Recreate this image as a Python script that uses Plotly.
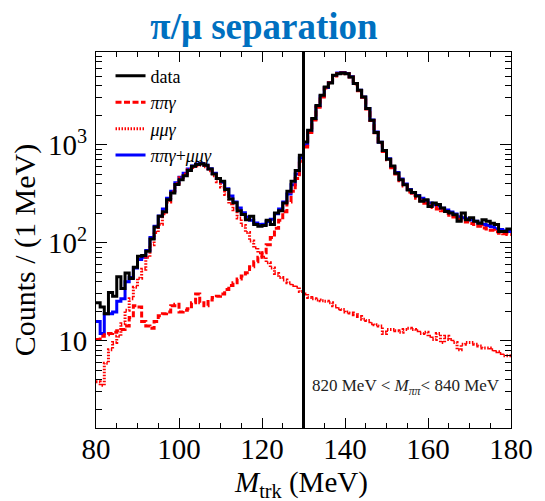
import plotly.graph_objects as go

# bin low edges: 80..179 MeV, 1 MeV bins
bin_lo = list(range(80, 180))

data_counts = [24.4, 22, 18.8, 31, 28.4, 45, 34, 49, 43, 56,
               72.6, 74, 81.5, 109, 144, 186, 207, 274, 321, 391,
               439, 482, 546, 600, 626, 640, 615, 563, 501, 450,
               424, 349, 279, 255, 211, 194, 171, 186, 153, 147,
               150, 169, 153, 201, 211, 254, 334, 424, 546, 778,
               1066, 1400, 1842, 2510, 3185, 3876, 4260, 5100, 5300, 5369,
               5300, 4905, 4195, 3585, 3067, 2331, 1771, 1331, 1055, 870,
               710, 605, 511, 439, 389, 344, 324, 299, 264, 274,
               234, 254, 245, 226, 208, 201, 193, 165, 201, 171,
               179, 165, 158, 171, 165, 158, 153, 130, 130, 138]

pipig = [10.3, 11.1, 11.5, 11.8, 12.2, 12.6, 13, 14.1, 17.2, 22.7,
         22, 15.7, 14.1, 13.4, 15.7, 18, 18.8, 19.6, 22.7, 23.5,
         19.6, 20.4, 21.2, 24.4, 30, 24.4, 22.7, 26, 27.6, 28.4,
         30, 33.2, 36.6, 39, 42.5, 45.8, 49.3, 56.9, 63.9, 71,
         78.8, 94.9, 113, 140, 169, 207, 260, 334, 450, 678,
         946, 1331, 1782, 2410, 3069, 3790, 4279, 5020, 5330, 5395,
         5295, 4896, 4155, 3550, 3045, 2315, 1760, 1320, 1033, 850,
         699, 580, 501, 429, 379, 329, 304, 284, 268, 253,
         238, 228, 221, 211, 200, 190, 183, 173, 169, 162,
         157, 153, 147, 141, 138, 134, 129, 125, 123, 121]

mumug = [3.8, 3.5, 5.9, 8.1, 9.6, 11.1, 14.9, 20.4, 26.8, 35,
         43.3, 53.6, 71, 94.9, 127, 154.5, 197, 260, 329, 399,
         460, 501, 553, 584, 610, 615, 594, 542, 480, 419,
         369, 309, 250, 216, 178, 150, 127, 104, 88.6, 78.8,
         71, 62.2, 55.2, 48.5, 44.2, 41.7, 39, 36.6, 35, 31.7,
         30, 27.6, 26.8, 26, 25.6, 25.2, 24.4, 22.7, 21.2, 20.8,
         19.6, 19.2, 18.4, 17.6, 16.5, 16.1, 14.9, 14.5, 14.1, 11.8,
         13, 13, 12.6, 12.2, 13, 13.4, 13, 12.6, 11.8, 12.2,
         11.1, 10.3, 11.8, 9.6, 11.1, 10.3, 9.6, 8.1, 9.2, 9.6,
         9.6, 9.2, 8.8, 8.4, 8.4, 8.1, 7.7, 7.4, 7.0, 7.0]

total_mc = [15.7, 11.8, 18.8, 18.8, 19.6, 25.2, 26.8, 40, 44.2, 55.2,
            67.4, 71, 83.3, 113, 147, 187.5, 221, 284, 334, 409,
            465, 511, 563, 605, 636, 641, 615, 568, 511, 450,
            414, 354, 299, 260, 226, 202, 183, 169, 159, 153,
            154.5, 164, 173, 197, 221, 260, 314, 389, 501, 731,
            1000, 1376, 1828, 2460, 3115, 3830, 4315, 5060, 5369, 5430,
            5330, 4935, 4194, 3585, 3069, 2337, 1782, 1342, 1055, 867,
            718, 598, 520, 447, 397, 348, 323, 302, 284, 269,
            254, 243, 237, 225, 215, 205, 196, 184, 180, 175,
            170, 165, 159, 153, 150, 145, 139, 136, 132, 130]

x_ticks = [80, 100, 120, 140, 160, 180]
y_tickvals = [10, 100, 1000]
y_ticktext = ["10", "10<sup>2</sup>", "10<sup>3</sup>"]
cut_value = 130

FONT = "Liberation Serif"

edges = bin_lo + [bin_lo[-1] + 1]


def steps(vals):
    return vals + [vals[-1]]


fig = go.Figure()

fig.add_trace(go.Scatter(x=edges, y=steps(total_mc), mode="lines", line_shape="hv",
                         line=dict(color="#0000FF", width=3),
                         name="<i>ππγ</i>+<i>μμγ</i>", legendrank=4))
fig.add_trace(go.Scatter(x=edges, y=steps(pipig), mode="lines", line_shape="hv",
                         line=dict(color="#FF0000", width=3, dash="6px,2.5px"),
                         name="<i>ππγ</i>", legendrank=2))
fig.add_trace(go.Scatter(x=edges, y=steps(mumug), mode="lines", line_shape="hv",
                         line=dict(color="#FF0000", width=3, dash="1.5px,1.5px"),
                         name="<i>μμγ</i>", legendrank=3))
fig.add_trace(go.Scatter(x=edges, y=steps(data_counts), mode="lines", line_shape="hv",
                         line=dict(color="black", width=3),
                         name="data", legendrank=1))

fig.add_shape(type="line", xref="x", yref="paper", x0=cut_value, x1=cut_value,
              y0=0, y1=1, line=dict(color="black", width=3), layer="above")

minor_y = [m * 10 ** e for e in range(0, 4) for m in range(2, 10) if m * 10 ** e < 8800]

fig.update_layout(
    width=545, height=501,
    margin=dict(l=96, r=26, t=52, b=73),
    paper_bgcolor="white", plot_bgcolor="white",
    font=dict(family=FONT, color="black"),
    title=dict(text="<b>π/μ separation</b>", x=264 / 545, xanchor="center",
               y=1 - 26 / 501, yanchor="middle", yref="container",
               font=dict(family=FONT, size=37, color="#0070C0")),
    showlegend=True,
    legend=dict(x=0.035, y=0.985, xanchor="left", yanchor="top",
                bgcolor="rgba(255,255,255,0)", borderwidth=0,
                font=dict(family=FONT, size=18, color="black"),
                tracegroupgap=0),
    annotations=[
        dict(text="820 MeV &lt; <i>M</i><sub><i>ππ</i></sub>&lt; 840 MeV",
             x=(412 - 96) / 423, y=(428.3 - 387) / 376.6, xref="paper", yref="paper",
             showarrow=False, xanchor="center", yanchor="middle",
             font=dict(family=FONT, size=17, color="#222222")),
        dict(text="Counts / (1 MeV)", textangle=-90,
             x=(24 - 96) / 423, y=(428.3 - 250) / 376.6, xref="paper", yref="paper",
             showarrow=False, xanchor="center", yanchor="middle",
             font=dict(family=FONT, size=30, color="black")),
        dict(text="<i>M</i><sub>trk</sub> (MeV)",
             x=(305 - 96) / 423, y=(428.3 - 484) / 376.6, xref="paper", yref="paper",
             showarrow=False, xanchor="center", yanchor="middle",
             font=dict(family=FONT, size=29, color="black")),
    ],
)

fig.update_xaxes(range=[80, 180], tickvals=x_ticks, ticks="inside", ticklen=10,
                 tickwidth=1, tickcolor="black", showline=True, linecolor="black",
                 linewidth=1, mirror="ticks", showgrid=False, zeroline=False,
                 ticklabelstandoff=-5,
                 tickfont=dict(family=FONT, size=29, color="black"),
                 minor=dict(dtick=5, tick0=80, ticks="inside", ticklen=5,
                            tickcolor="black", showgrid=False))

fig.update_yaxes(type="log", range=[0.109, 3.945], tickvals=y_tickvals,
                 ticktext=y_ticktext, ticks="inside", ticklen=11, tickwidth=1,
                 tickcolor="black", showline=True, linecolor="black", linewidth=1,
                 mirror="ticks", showgrid=False, zeroline=False,
                 ticklabelstandoff=2,
                 tickfont=dict(family=FONT, size=29, color="black"),
                 minor=dict(tickvals=minor_y, ticks="inside", ticklen=6,
                            tickcolor="black", showgrid=False))

fig.write_html("out.html", config={"displayModeBar": False},
               post_script="document.body.style.margin='0';")
